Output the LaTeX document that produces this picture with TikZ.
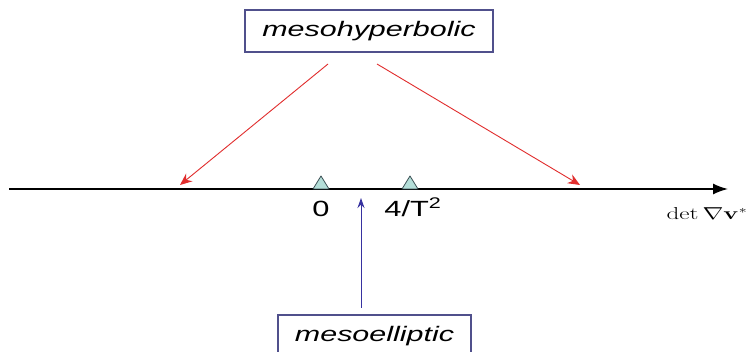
\documentclass[tikz,border=0pt]{standalone}
\usepackage[no-math]{fontspec}
\usepackage{graphicx}
\setmainfont{Liberation Sans}
\usetikzlibrary{arrows.meta}
\definecolor{boxline}{RGB}{80,80,140}
\definecolor{redarrow}{RGB}{225,45,45}
\definecolor{bluearrow}{RGB}{55,50,160}
\definecolor{trifill}{RGB}{180,222,216}
\definecolor{triline}{RGB}{60,80,85}
\tikzset{
  labelbox/.style={draw=boxline, line width=1.1pt, inner sep=0pt, minimum height=42pt,
    font=\fontsize{21}{24}\selectfont\itshape},
  redarr/.style={draw=redarrow, line width=0.9pt, -{Stealth[length=12pt,width=10pt]}},
  bluearr/.style={draw=bluearrow, line width=1pt, -{Stealth[length=10pt,width=7pt]}},
  axisline/.style={draw=black, line width=1.6pt, -{Latex[length=15pt,width=11pt]}},
  marker/.style={fill=trifill, draw=triline, line width=0.8pt, line join=round},
  ticklabel/.style={inner sep=0pt, font=\fontsize{22}{24}\selectfont},
  axlabel/.style={inner sep=0pt, font=\fontsize{16}{18}\selectfont},
}
\begin{document}
\begin{tikzpicture}[x=1pt,y=-1pt]
\useasboundingbox (0,0) rectangle (752,352);
\clip (0,0) rectangle (752,352);
\fill[white] (0,0) rectangle (752,352);
% boxes
\node[labelbox, minimum width=248pt] (hyp) at (369,31) {\scalebox{1.45}[1]{mesohyperbolic}};
\node[labelbox, minimum width=193pt] (ell) at (374.5,336) {\scalebox{1.45}[1]{mesoelliptic}};
% axis
\coordinate (axstart) at (9,189);
\coordinate (axend) at (728,189);
\draw[axisline] (axstart) -- (axend);
\node[axlabel] (axl) at (707,214) {\scalebox{1.45}[1]{$\det\nabla\mathbf{v}^{*}$}};
% markers
\coordinate (m0) at (321,189);
\coordinate (m4) at (410,189);
\draw[marker] ([xshift=-8pt]m0) -- ([yshift=13pt]m0) -- ([xshift=8pt]m0) -- cycle;
\draw[marker] ([xshift=-8pt]m4) -- ([yshift=13pt]m4) -- ([xshift=8pt]m4) -- cycle;
\node[ticklabel] (l0) at (321,209) {\scalebox{1.4}[1]{0}};
\node[ticklabel] (l4) at (413,207) {\scalebox{1.4}[1]{4/T\textsuperscript{2}}};
% red arrows
\coordinate (hl) at (328,64);
\coordinate (hr) at (377,64);
\coordinate (tl) at (180,185);
\coordinate (tr) at (580,185);
\draw[redarr] (hl) -- (tl);
\draw[redarr] (hr) -- (tr);
% blue arrow
\coordinate (eb) at (361,308);
\coordinate (et) at (361,198);
\draw[bluearr] (eb) -- (et);
\end{tikzpicture}
\end{document}
